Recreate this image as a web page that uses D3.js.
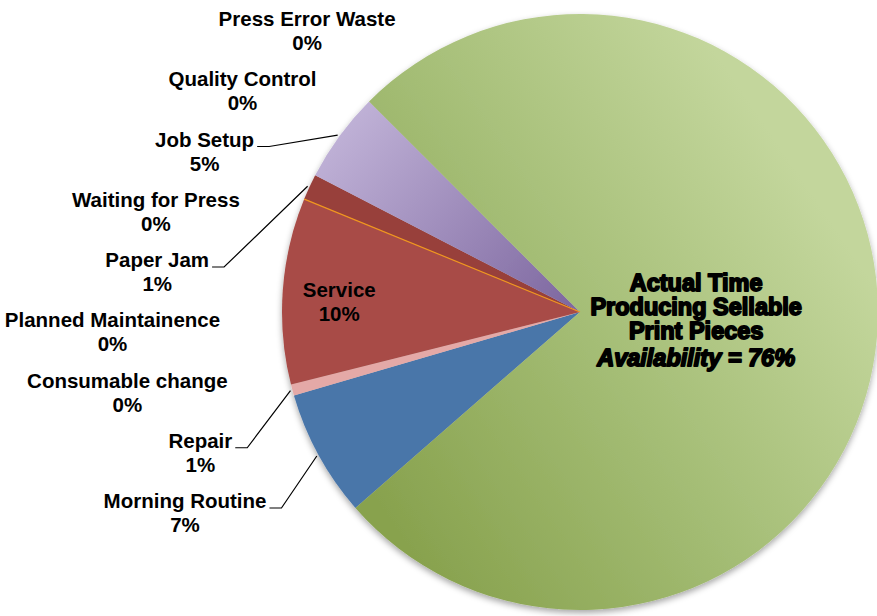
<!DOCTYPE html>
<html>
<head>
<meta charset="utf-8">
<script src="https://cdn.jsdelivr.net/npm/d3@7"></script>
<style>
  html, body { margin: 0; padding: 0; background: #fff; }
  svg { display: block; font-family: "Liberation Sans", Arial, sans-serif; }
</style>
</head>
<body>
<div id="chart"></div>
<script>
// downtime breakdown, in label order going clockwise from the bottom left
const categories = [
    "Morning Routine", "Repair", "Consumable change", "Planned Maintainence",
    "Service", "Paper Jam", "Waiting for Press", "Job Setup",
    "Quality Control", "Press Error Waste", "Actual Time Producing Sellable Print Pieces"
];
const values = [6.9, 0.6, 0, 0, 10.1, 1.4, 0, 4.9, 0, 0, 76.1];
const insideLabels = ["Service"];
const mainLabelLines = ["Actual Time", "Producing Sellable", "Print Pieces"];
const mainLabelPrefix = "Availability = ";

const sliceColors = {
    "Morning Routine": "#4a76a9",
    "Repair": "#e4a9a7",
    "Consumable change": "#c0504d",
    "Planned Maintainence": "#c0504d",
    "Service": "#a84b46",
    "Paper Jam": "#983f3b",
    "Waiting for Press": "#f79646",
    "Job Setup": "url(#purpleGrad)",
    "Quality Control": "#8064a2",
    "Press Error Waste": "#8064a2",
    "Actual Time Producing Sellable Print Pieces": "url(#greenGrad)"
};
// thin coloured edge drawn at the start of a slice
const edgeColors = { "Paper Jam": "#f0961e" };

const width = 877, height = 616;
const cx = 580, cy = 312, R = 298;

const data = categories.map((name, i) => ({ name, value: values[i] }));
const total = d3.sum(values);
const pct = d3.format(".0%");

const startAngle = 228.9 * Math.PI / 180;
const pie = d3.pie()
    .sort(null)
    .value(d => d.value)
    .startAngle(startAngle)
    .endAngle(startAngle + 2 * Math.PI);

const arcs = pie(data);
const arc = d3.arc().innerRadius(0).outerRadius(R);
const polar = (a, r) => [cx + r * Math.sin(a), cy - r * Math.cos(a)];

const svg = d3.select("#chart")
    .append("svg")
    .attr("width", width)
    .attr("height", height);

const defs = svg.append("defs");

// gradient coordinates are relative to the pie centre
const green = defs.append("linearGradient")
    .attr("id", "greenGrad")
    .attr("gradientUnits", "userSpaceOnUse")
    .attr("x1", -250).attr("y1", 120)
    .attr("x2", 190).attr("y2", -180);
green.append("stop").attr("offset", 0).attr("stop-color", "#88a24e");
green.append("stop").attr("offset", 0.5).attr("stop-color", "#a4bd75");
green.append("stop").attr("offset", 1).attr("stop-color", "#c3d69c");

const purple = defs.append("linearGradient")
    .attr("id", "purpleGrad")
    .attr("gradientUnits", "userSpaceOnUse")
    .attr("x1", -225).attr("y1", -205)
    .attr("x2", -10).attr("y2", -10);
purple.append("stop").attr("offset", 0).attr("stop-color", "#c0b2d7");
purple.append("stop").attr("offset", 1).attr("stop-color", "#7f69a1");

const shadow = defs.append("filter")
    .attr("id", "shadow")
    .attr("x", "-10%").attr("y", "-10%")
    .attr("width", "120%").attr("height", "120%");
shadow.append("feDropShadow")
    .attr("dx", 0).attr("dy", 3)
    .attr("stdDeviation", 3)
    .attr("flood-color", "#000")
    .attr("flood-opacity", 0.35);

const pieGroup = svg.append("g")
    .attr("transform", `translate(${cx}, ${cy})`);

pieGroup.append("g")
    .attr("filter", "url(#shadow)")
    .selectAll("path")
    .data(arcs.filter(d => d.value > 0))
    .join("path")
    .attr("d", arc)
    .attr("fill", d => sliceColors[d.data.name])
    .attr("stroke", "none");

pieGroup.selectAll("line.edge")
    .data(arcs.filter(d => edgeColors[d.data.name]))
    .join("line")
    .attr("class", "edge")
    .attr("x1", 0).attr("y1", 0)
    .attr("x2", d => R * Math.sin(d.startAngle))
    .attr("y2", d => -R * Math.cos(d.startAngle))
    .attr("stroke", d => edgeColors[d.data.name])
    .attr("stroke-width", 1.2);

// outside labels stacked in a column on the left
const mainName = categories[categories.length - 1];
const outside = arcs.filter(d => d.data.name !== mainName && !insideLabels.includes(d.data.name));
const topBase = 26, bottomBase = 508;
const step = (bottomBase - topBase) / (outside.length - 1);
const Rx = 360, Ry = 340, leaderGap = 15;

const labelGroup = svg.append("g")
    .attr("font-size", "20.5px")
    .attr("font-weight", "bold")
    .attr("fill", "#000");

outside.forEach((d, i) => {
    const base = bottomBase - i * step;
    const hasLeader = d.value > 0;
    const dy = (base - 6 - cy) / Ry;
    const right = cx - Rx * Math.sqrt(Math.max(0, 1 - dy * dy)) - (hasLeader ? leaderGap : 0);

    const g = labelGroup.append("g");
    const t1 = g.append("text").text(d.data.name).attr("y", base);
    const t2 = g.append("text").text(pct(d.value / total)).attr("y", base + 24);
    const w = Math.max(t1.node().getComputedTextLength(), t2.node().getComputedTextLength());
    const mid = right - w / 2;
    t1.attr("x", mid).attr("text-anchor", "middle");
    t2.attr("x", mid).attr("text-anchor", "middle");

    if (hasLeader) {
        const a = (d.startAngle + d.endAngle) / 2;
        const end = polar(a, R + 2);
        const x0 = mid + t1.node().getComputedTextLength() / 2 + 3;
        svg.append("polyline")
            .attr("points", [[x0, base], [x0 + 12, base], end].map(p => p.join(",")).join(" "))
            .attr("fill", "none")
            .attr("stroke", "#000")
            .attr("stroke-width", 1.2);
    }
});

// labels that sit inside their slice
arcs.filter(d => insideLabels.includes(d.data.name)).forEach(d => {
    const a = (d.startAngle + d.endAngle) / 2;
    const [x, y] = polar(a, R * 0.81);
    const g = labelGroup.append("g").attr("text-anchor", "middle");
    g.append("text").attr("x", x).attr("y", y + 2).text(d.data.name);
    g.append("text").attr("x", x).attr("y", y + 26).text(pct(d.value / total));
});

// big slice label
const mainArc = arcs.find(d => d.data.name === mainName);
const ma = (mainArc.startAngle + mainArc.endAngle) / 2;
const [mx, my] = polar(ma, R * 0.39);
const mainGroup = svg.append("g")
    .attr("text-anchor", "middle")
    .attr("font-size", "23.5px")
    .attr("font-weight", "bold")
    .attr("fill", "#000")
    .attr("stroke", "#000")
    .attr("stroke-width", 1.8)
    .attr("stroke-linejoin", "round");

mainLabelLines.forEach((line, i) => {
    mainGroup.append("text")
        .attr("x", mx)
        .attr("y", my - 25 + i * 24)
        .text(line);
});
mainGroup.append("text")
    .attr("x", mx)
    .attr("y", my - 25 + mainLabelLines.length * 24 + 3)
    .attr("font-style", "italic")
    .text(mainLabelPrefix + pct(mainArc.value / total));
</script>
</body>
</html>
